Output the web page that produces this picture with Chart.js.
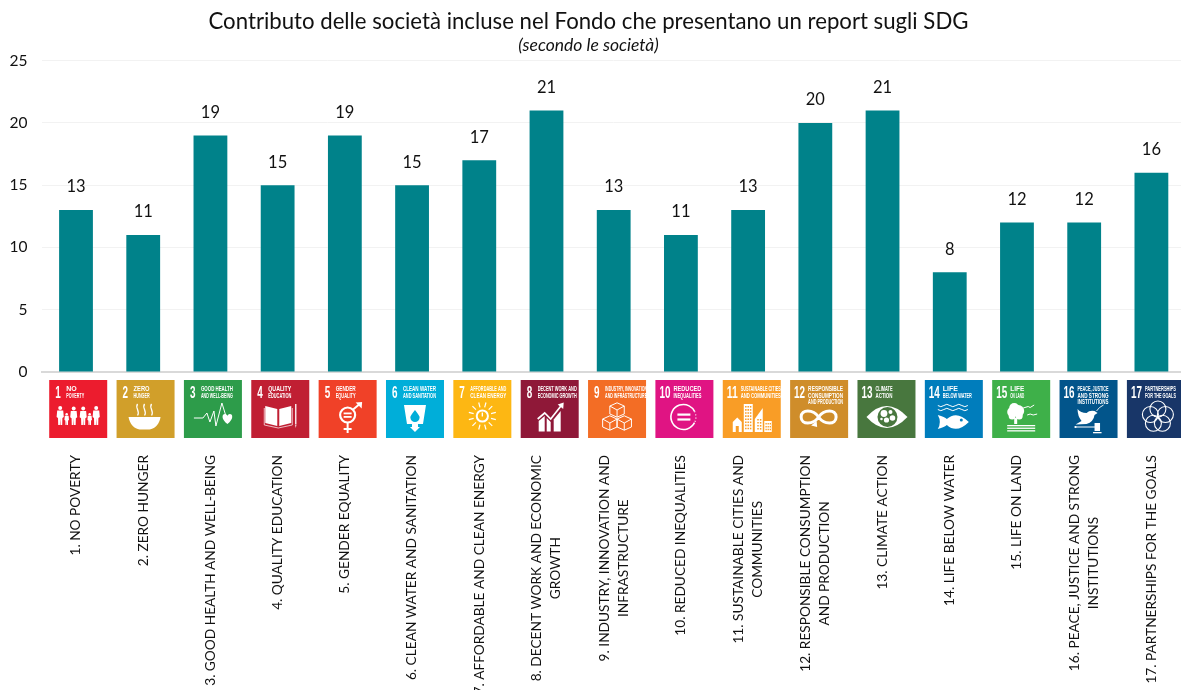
<!DOCTYPE html>
<html>
<head>
<meta charset="utf-8">
<title>SDG</title>
<script src="https://cdn.jsdelivr.net/npm/chart.js@4/dist/chart.umd.min.js"></script>
<style>
html,body{margin:0;padding:0;background:#fff;overflow:hidden;width:1181px;height:690px}
#wrap{position:absolute;left:-8px;top:0;width:1193px;height:690px}
</style>
</head>
<body>
<div id="wrap"><canvas id="c" width="1193" height="690"></canvas></div>
<script>
const tickLines = [
  ['1. NO POVERTY'],
  ['2. ZERO HUNGER'],
  ['3. GOOD HEALTH AND WELL-BEING'],
  ['4. QUALITY EDUCATION'],
  ['5. GENDER EQUALITY'],
  ['6. CLEAN WATER AND SANITATION'],
  ['7. AFFORDABLE AND CLEAN ENERGY'],
  ['8. DECENT WORK AND ECONOMIC', 'GROWTH'],
  ['9. INDUSTRY, INNOVATION AND', 'INFRASTRUCTURE'],
  ['10. REDUCED INEQUALITIES'],
  ['11. SUSTAINABLE CITIES AND', 'COMMUNITIES'],
  ['12. RESPONSIBLE CONSUMPTION', 'AND PRODUCTION'],
  ['13. CLIMATE ACTION'],
  ['14. LIFE BELOW WATER'],
  ['15. LIFE ON LAND'],
  ['16. PEACE, JUSTICE AND STRONG', 'INSTITUTIONS'],
  ['17. PARTNERSHIPS FOR THE GOALS']
];
const categories = tickLines.map(l => l.join(' '));
const companies = [13, 11, 19, 15, 19, 15, 17, 21, 13, 11, 13, 20, 21, 8, 12, 12, 16];
const yTicks = [0, 5, 10, 15, 20, 25];

const tileNumbers = ['1','2','3','4','5','6','7','8','9','10','11','12','13','14','15','16','17'];
const tileCaptions = [
  ['NO','POVERTY'],['ZERO','HUNGER'],['GOOD HEALTH','AND WELL-BEING'],['QUALITY','EDUCATION'],
  ['GENDER','EQUALITY'],['CLEAN WATER','AND SANITATION'],['AFFORDABLE AND','CLEAN ENERGY'],
  ['DECENT WORK AND','ECONOMIC GROWTH'],['INDUSTRY, INNOVATION','AND INFRASTRUCTURE'],
  ['REDUCED','INEQUALITIES'],['SUSTAINABLE CITIES','AND COMMUNITIES'],
  ['RESPONSIBLE','CONSUMPTION','AND PRODUCTION'],['CLIMATE','ACTION'],['LIFE','BELOW WATER'],
  ['LIFE','ON LAND'],['PEACE, JUSTICE','AND STRONG','INSTITUTIONS'],['PARTNERSHIPS','FOR THE GOALS']
];
const tileColors = ['#ec1c2e','#d19f2a','#2d9c4a','#c01f33','#f04128','#00aed9','#fdb713','#8f1838',
  '#f36d25','#e01483','#f99d26','#cf8d2a','#48773e','#007dbc','#3eb049','#02558b','#183668'];
const captionWidths = [18, 16, 32, 23, 20, 33, 36, 39, 42, 28, 40, 35, 17, 29, 14, 31, 31];

const TEXT_FONT = 'Lato, Carlito, sans-serif';
const INK = '#111111';
const WHITE = '#ffffff';

function line(c, pts, w) {
  c.lineWidth = w; c.beginPath();
  pts.forEach((p, i) => i ? c.lineTo(p[0], p[1]) : c.moveTo(p[0], p[1]));
  c.stroke();
}
function poly(c, pts, fill) {
  c.fillStyle = fill || WHITE; c.beginPath();
  pts.forEach((p, i) => i ? c.lineTo(p[0], p[1]) : c.moveTo(p[0], p[1]));
  c.closePath(); c.fill();
}
function disc(c, x, y, r, fill) {
  c.fillStyle = fill || WHITE; c.beginPath(); c.arc(x, y, r, 0, Math.PI * 2); c.fill();
}
function ring(c, x, y, r, w, a0, a1) {
  c.lineWidth = w; c.beginPath(); c.arc(x, y, r, a0 === undefined ? 0 : a0, a1 === undefined ? Math.PI * 2 : a1); c.stroke();
}
function figure(c, x, top, h) {
  const u = h / 19;
  disc(c, x, top + 2 * u, 2 * u);
  poly(c, [[x - 3 * u, top + 4.5 * u], [x + 3 * u, top + 4.5 * u], [x + 3.6 * u, top + 11 * u], [x + 2.2 * u, top + 12 * u], [x + 2 * u, top + h], [x + .3 * u, top + h], [x, top + 12 * u], [x - .3 * u, top + h], [x - 2 * u, top + h], [x - 2.2 * u, top + 12 * u], [x - 3.6 * u, top + 11 * u]]);
}
function cube(c, x, y, s) {
  const h = s * .55;
  c.lineJoin = 'round'; c.lineWidth = 1;
  c.beginPath();
  c.moveTo(x, y - s); c.lineTo(x + s, y - h); c.lineTo(x + s, y + h); c.lineTo(x, y + s);
  c.lineTo(x - s, y + h); c.lineTo(x - s, y - h); c.closePath();
  c.moveTo(x - s, y - h); c.lineTo(x, y - h + s * .55); c.lineTo(x + s, y - h);
  c.moveTo(x, y); c.lineTo(x, y + s);
  c.stroke();
}

/* One pictogram per goal, each drawn inside a 58-unit tile. */
const pictograms = [
  c => {
    [[11, 26, 19], [17.5, 33, 12], [24.5, 26.5, 18.5], [34, 26.5, 18.5], [40.5, 33, 12], [47, 26, 19]]
      .forEach(f => figure(c, f[0], f[1], f[2]));
  },
  c => {
    [21, 28, 35].forEach(x => {
      c.lineWidth = 1.3; c.beginPath(); c.moveTo(x, 24);
      c.bezierCurveTo(x - 3, 28, x + 3, 31, x, 35.5); c.stroke();
    });
    c.fillStyle = WHITE; c.beginPath(); c.moveTo(12, 37); c.lineTo(44, 37);
    c.bezierCurveTo(43, 44, 38, 49, 33, 49.5); c.lineTo(23, 49.5);
    c.bezierCurveTo(18, 49, 13, 44, 12, 37); c.closePath(); c.fill();
  },
  c => {
    line(c, [[10, 38], [19, 38], [23, 33], [26, 42], [30, 31], [32, 46], [38, 23], [42, 36]], 1);
    c.fillStyle = WHITE; c.beginPath(); c.moveTo(43.5, 44);
    c.bezierCurveTo(37, 39, 38, 34, 41, 34); c.bezierCurveTo(42.5, 34, 43.5, 35.5, 43.5, 36);
    c.bezierCurveTo(43.5, 35.5, 44.5, 34, 46, 34); c.bezierCurveTo(49, 34, 50, 39, 43.5, 44);
    c.closePath(); c.fill();
  },
  c => {
    poly(c, [[14, 26], [26, 29], [26, 46], [14, 43]]);
    poly(c, [[28, 29], [40, 26], [40, 43], [28, 46]]);
    line(c, [[13, 28], [13, 45], [27, 48], [41, 45], [41, 28]], .7);
    line(c, [[44.5, 24], [44.5, 44]], 1.3);
    poly(c, [[43.8, 44.5], [45.2, 44.5], [44.5, 48]]);
  },
  c => {
    ring(c, 29, 35, 7.5, 2.2);
    poly(c, [[25, 32.5], [33, 32.5], [33, 34.3], [25, 34.3]]);
    poly(c, [[25, 36], [33, 36], [33, 37.8], [25, 37.8]]);
    line(c, [[34.5, 29.5], [41, 24]], 2);
    poly(c, [[37, 22.5], [43.5, 22], [43, 28.5]]);
    line(c, [[29, 43], [29, 53]], 2);
    line(c, [[25, 49], [33, 49]], 2);
  },
  c => {
    poly(c, [[18, 25], [40, 25], [37, 44], [32, 44], [32, 47], [34, 47], [29, 52], [24, 47], [26, 47], [26, 44], [21, 44]]);
    const tone = tileColors[5];
    c.fillStyle = tone; c.beginPath(); c.moveTo(29, 30);
    c.bezierCurveTo(25, 35, 24, 37, 24.5, 38); c.arc(29, 37.5, 4.6, Math.PI, 0, true);
    c.bezierCurveTo(34, 37, 33, 35, 29, 30); c.closePath(); c.fill();
  },
  c => {
    ring(c, 29, 36, 5.6, 2);
    line(c, [[29, 32.5], [29, 36.5]], 1.4);
    for (let a = 0; a < 12; a++) {
      const t = a * Math.PI / 6 + Math.PI / 12;
      line(c, [[29 + Math.cos(t) * 9, 36 + Math.sin(t) * 9], [29 + Math.cos(t) * 14, 36 + Math.sin(t) * 14]], 1.2);
    }
  },
  c => {
    poly(c, [[18, 41], [24, 36], [24, 51.5], [18, 51.5]]);
    poly(c, [[26, 38], [30, 42], [30, 51.5], [26, 51.5]]);
    poly(c, [[33, 39.5], [40, 31], [40, 51.5], [33, 51.5]]);
    line(c, [[17, 39], [24, 33], [30, 39], [41, 25]], 1.7);
    poly(c, [[37, 24.5], [43, 22.5], [42.5, 29]]);
  },
  c => {
    cube(c, 29, 30, 7.2);
    cube(c, 21.8, 43, 7.2);
    cube(c, 36.2, 43, 7.2);
  },
  c => {
    ring(c, 28, 37, 12.5, 1.6, .15 * Math.PI, 1.85 * Math.PI);
    c.setLineDash([1, 2.2]); ring(c, 28, 37, 12.5, 1.2, 1.85 * Math.PI, 2.15 * Math.PI); c.setLineDash([]);
    poly(c, [[22, 33.5], [35, 33.5], [35, 35.7], [22, 35.7]]);
    poly(c, [[22, 38.4], [35, 38.4], [35, 40.6], [22, 40.6]]);
  },
  c => {
    const tone = tileColors[10];
    poly(c, [[10, 42], [14.5, 37.5], [19, 42], [19, 52], [10, 52]]);
    poly(c, [[21, 24], [30, 24], [30, 52], [21, 52]]);
    poly(c, [[32, 39], [40, 28], [40, 52], [32, 52]]);
    poly(c, [[41.5, 41], [49, 41], [49, 52], [41.5, 52]]);
    for (let r = 0; r < 8; r++) for (let k = 0; k < 3; k++) poly(c, [[22.3 + k * 2.4, 26 + r * 3.1], [23.8 + k * 2.4, 26 + r * 3.1], [23.8 + k * 2.4, 27.6 + r * 3.1], [22.3 + k * 2.4, 27.6 + r * 3.1]], tone);
    for (let r = 0; r < 4; r++) for (let k = 0; k < 2; k++) poly(c, [[34.5 + k * 2.6, 39 + r * 3], [36 + k * 2.6, 39 + r * 3], [36 + k * 2.6, 40.6 + r * 3], [34.5 + k * 2.6, 40.6 + r * 3]], tone);
    for (let r = 0; r < 3; r++) for (let k = 0; k < 3; k++) poly(c, [[42.7 + k * 2.1, 43 + r * 2.9], [44 + k * 2.1, 43 + r * 2.9], [44 + k * 2.1, 44.5 + r * 2.9], [42.7 + k * 2.1, 44.5 + r * 2.9]], tone);
    poly(c, [[13, 46], [16, 46], [16, 52], [13, 52]], tone);
  },
  c => {
    c.lineWidth = 3; c.beginPath(); c.moveTo(28.5, 37);
    c.bezierCurveTo(23, 29, 11, 29, 11, 37); c.bezierCurveTo(11, 45, 23, 45, 28.5, 37);
    c.bezierCurveTo(34, 29, 46, 29, 46, 37); c.bezierCurveTo(46, 45, 34, 45, 28.5, 37);
    c.stroke();
    poly(c, [[21, 45.5], [26.5, 41], [27, 47]]);
  },
  c => {
    const tone = tileColors[12];
    c.fillStyle = WHITE; c.beginPath(); c.moveTo(9, 37);
    c.quadraticCurveTo(29, 15, 50, 37); c.quadraticCurveTo(29, 59, 9, 37); c.closePath(); c.fill();
    disc(c, 30, 37, 10, tone);
    disc(c, 26.5, 33.5, 3.4); disc(c, 33, 32, 2); disc(c, 29, 40, 2.6); disc(c, 35, 38, 2.8); disc(c, 24, 39, 1.3);
  },
  c => {
    [25.5, 29.5].forEach(y => {
      c.lineWidth = 1; c.beginPath(); c.moveTo(13, y);
      for (let k = 0; k < 5; k++) c.quadraticCurveTo(16 + k * 6, y + (k % 2 ? -2.4 : 2.4), 19 + k * 6, y);
      c.stroke();
    });
    c.fillStyle = WHITE; c.beginPath(); c.moveTo(13, 35);
    c.quadraticCurveTo(20, 37, 22, 39); c.quadraticCurveTo(32, 30, 44, 42);
    c.quadraticCurveTo(32, 54, 22, 45); c.quadraticCurveTo(20, 47, 13, 49);
    c.quadraticCurveTo(17, 42, 13, 35); c.closePath(); c.fill();
    disc(c, 36.5, 40, 1.5, tileColors[13]);
    line(c, [[27, 37], [27, 47]], .5);
  },
  c => {
    disc(c, 20, 32, 5); disc(c, 26, 31, 6); disc(c, 22, 28, 5); disc(c, 20, 36, 3.5); disc(c, 27, 36, 3.5);
    poly(c, [[22, 38], [25, 38], [25, 44], [22, 44]]);
    line(c, [[31, 28], [36, 26.5], [38, 27.5], [42, 25]], 1);
    line(c, [[35, 35], [38, 34], [41, 35], [45, 34]], 1);
    poly(c, [[15, 45], [43, 45], [43, 46.3], [15, 46.3]]);
    poly(c, [[15, 47.6], [43, 47.6], [43, 48.9], [15, 48.9]]);
    poly(c, [[15, 50.2], [43, 50.2], [43, 51.5], [15, 51.5]]);
  },
  c => {
    c.fillStyle = WHITE; c.beginPath(); c.moveTo(18, 29);
    c.quadraticCurveTo(21, 33, 27, 33); c.quadraticCurveTo(30, 30, 35, 31);
    c.lineTo(38, 33); c.lineTo(35, 35); c.quadraticCurveTo(34, 42, 27, 44);
    c.lineTo(16, 44.5); c.lineTo(22, 41); c.quadraticCurveTo(18, 36, 18, 29); c.closePath(); c.fill();
    line(c, [[37, 31], [40, 27.5], [44, 25]], .9);
    line(c, [[15, 47], [36, 47]], 1);
    poly(c, [[35, 43], [40.5, 43], [40.5, 51], [35, 51]]);
    poly(c, [[33.5, 52], [42, 52], [42, 53.3], [33.5, 53.3]]);
    disc(c, 16, 47, 1);
  },
  c => {
    [[31, 29], [38.5, 34.5], [35.5, 43.3], [26.5, 43.3], [23.5, 34.5]].forEach(p => ring(c, p[0], p[1], 8, 1.1));
  }
];

const tileDrift = 0.144;
const tilesPlugin = {
  id: 'goalTiles',
  afterDraw(chart) {
    const c = chart.ctx, xs = chart.scales.x, tileTop = xs.top + 8, size = 58;
    categories.forEach((_, i) => {
      const left = xs.getPixelForValue(i) + 2.2 + i * tileDrift - size / 2;
      const wide = i > 8;
      c.save();
      c.translate(left, tileTop);
      c.fillStyle = tileColors[i];
      c.fillRect(0, 0, size, size);
      c.strokeStyle = WHITE; c.fillStyle = WHITE;
      pictograms[i](c);
      c.fillStyle = WHITE;
      c.textAlign = 'left'; c.textBaseline = 'alphabetic';
      c.font = 'bold 16px "Liberation Sans Narrow", sans-serif';
      c.fillText(tileNumbers[i], wide ? 4 : 6, 17.5, wide ? 11 : 5.5);
      c.font = 'bold 7px "Liberation Sans Narrow", sans-serif';
      tileCaptions[i].forEach((t, k) => {
        c.fillText(t, wide ? 18 : 17, 10.8 + k * 6.8, captionWidths[i]);
      });
      c.restore();
    });
  }
};

/* Wrapped, vertically written category labels hung from the top of the label band. */
const axisLabelsPlugin = {
  id: 'axisLabels',
  afterDraw(chart) {
    const c = chart.ctx, xs = chart.scales.x, top = 455, lh = 19;
    c.save();
    c.font = '13.7px ' + TEXT_FONT;
    c.fillStyle = INK;
    c.textAlign = 'center'; c.textBaseline = 'middle';
    tickLines.forEach((lines, i) => {
      const w = Math.max(...lines.map(t => c.measureText(t).width));
      const px = xs.getPixelForValue(i);
      lines.forEach((t, k) => {
        c.save();
        c.translate(px + (k - (lines.length - 1) / 2) * lh, top + w / 2);
        c.rotate(-Math.PI / 2);
        c.fillText(t, 0, 0);
        c.restore();
      });
    });
    c.restore();
  }
};

/* Value written above each bar. */
const valueLabelsPlugin = {
  id: 'valueLabels',
  afterDatasetsDraw(chart) {
    const c = chart.ctx, bars = chart.getDatasetMeta(0).data;
    c.save();
    c.font = '16.5px ' + TEXT_FONT;
    c.fillStyle = INK;
    c.textAlign = 'center'; c.textBaseline = 'middle';
    bars.forEach((b, i) => c.fillText(String(companies[i]), b.x, b.y - 23));
    c.restore();
  }
};

new Chart(document.getElementById('c'), {
  type: 'bar',
  data: {
    labels: categories,
    datasets: [{
      data: companies,
      backgroundColor: '#00828a',
      borderWidth: 0,
      categoryPercentage: 1,
      barPercentage: 0.503
    }]
  },
  plugins: [tilesPlugin, axisLabelsPlugin, valueLabelsPlugin],
  options: {
    responsive: false,
    animation: false,
    layout: { padding: 0 },
    plugins: {
      legend: { display: false },
      tooltip: { enabled: false },
      title: {
        display: true,
        text: 'Contributo delle società incluse nel Fondo che presentano un report sugli SDG',
        color: INK,
        font: { family: TEXT_FONT, size: 22.2, weight: 'normal', lineHeight: 1.1 },
        padding: { top: 10, bottom: 0 }
      },
      subtitle: {
        display: true,
        text: '(secondo le società)',
        color: INK,
        font: { family: TEXT_FONT, size: 17.5, style: 'italic', weight: 'normal', lineHeight: 1.1 },
        padding: { top: 1.5, bottom: 5.5 }
      }
    },
    scales: {
      x: {
        grid: { display: false, drawTicks: false },
        border: { display: true, color: '#d9d9d9', width: 2 },
        ticks: { display: false, autoSkip: false },
        afterFit(scale) { scale.height = 318; }
      },
      y: {
        min: 0,
        max: 25,
        afterBuildTicks(scale) { scale.ticks = yTicks.map(value => ({ value })); },
        grid: { color: '#f2f2f2', drawTicks: false, lineWidth: 1 },
        border: { display: false },
        ticks: { color: INK, padding: 15, font: { family: TEXT_FONT, size: 15.5 } },
        afterFit(scale) { scale.width = 50.4; }
      }
    }
  }
});
</script>
</body>
</html>
